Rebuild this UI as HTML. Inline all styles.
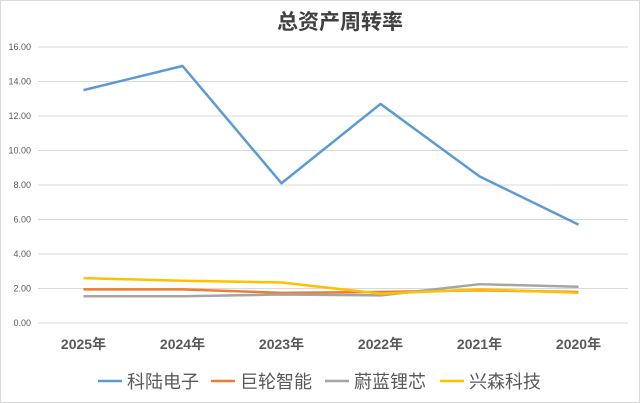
<!DOCTYPE html>
<html><head><meta charset="utf-8"><style>
body{margin:0;background:#fff;font-family:"Liberation Sans","Noto Sans CJK SC",sans-serif}
</style></head><body>
<svg width="640" height="403" id="c" style="display:block">
<rect x="0.5" y="0.5" width="639" height="402" fill="#fff" stroke="#d9d9d9"/>
<text x="340" y="29" text-anchor="middle" font-size="21" font-weight="bold" fill="#404040" font-family="Liberation Sans, Noto Sans CJK SC, sans-serif">总资产周转率</text>
<g id="grid"></g><g id="xl"></g><g id="lines"></g><g id="legend"></g>
</svg>
<script>
const categories=["2025年","2024年","2023年","2022年","2021年","2020年"];
const yTicks=[0,2,4,6,8,10,12,14,16];
const seriesNames=["科陆电子","巨轮智能","蔚蓝锂芯","兴森科技"];
const kelu=[13.5,14.9,8.1,12.7,8.5,5.7];
const julun=[1.95,1.95,1.75,1.8,1.9,1.8];
const weilan=[1.55,1.55,1.65,1.6,2.25,2.1];
const xingsen=[2.6,2.45,2.35,1.7,1.95,1.75];
const colors=["#5b9bd5","#ed7d31","#a5a5a5","#ffc000"];
const ns="http://www.w3.org/2000/svg";
const x0=34,x1=628,y0=323,y1=47;
const gx0=38;
const yS=v=>y0-(v/16)*(y0-y1);
const xS=i=>x0+(i+0.5)*(x1-x0)/categories.length;
function mk(t,a,p){const e=document.createElementNS(ns,t);for(const k in a)e.setAttribute(k,a[k]);p.appendChild(e);return e;}
const g=document.getElementById('grid');
yTicks.forEach(v=>{
 const l=mk('line',{x1:gx0,x2:x1,y1:yS(v),y2:yS(v),stroke:'#d9d9d9','stroke-width':1},g);
 
 
 const t=mk('text',{x:31,y:yS(v)+3,'text-anchor':'end','font-size':9,fill:'#595959'},g);
 t.textContent=v.toFixed(2);
 
 
});
const xl=document.getElementById('xl');
categories.forEach((c,i)=>{
 const t=mk('text',{x:xS(i),y:349,'text-anchor':'middle','font-size':14,'font-weight':'bold',fill:'#595959'},xl);
 t.textContent=c;
 
 
});
const lg=document.getElementById('lines');
[kelu,julun,weilan,xingsen].forEach((s,k)=>{
 const p=mk('polyline',{points:s.map((v,i)=>xS(i)+','+yS(v)).join(' '),fill:'none',stroke:colors[k],'stroke-width':2.5,'stroke-linejoin':'round'},lg);
 
 
});
const leg=document.getElementById('legend');
const lx=[98,211,325,440];
seriesNames.forEach((n,k)=>{
 const l=mk('line',{x1:lx[k],x2:lx[k]+24,y1:381,y2:381,stroke:colors[k],'stroke-width':2.5},leg);
 
 
 const t=mk('text',{x:lx[k]+29,y:388,'font-size':18,fill:'#595959'},leg);
 t.textContent=n;
 
 
});
</script>
</body></html>
